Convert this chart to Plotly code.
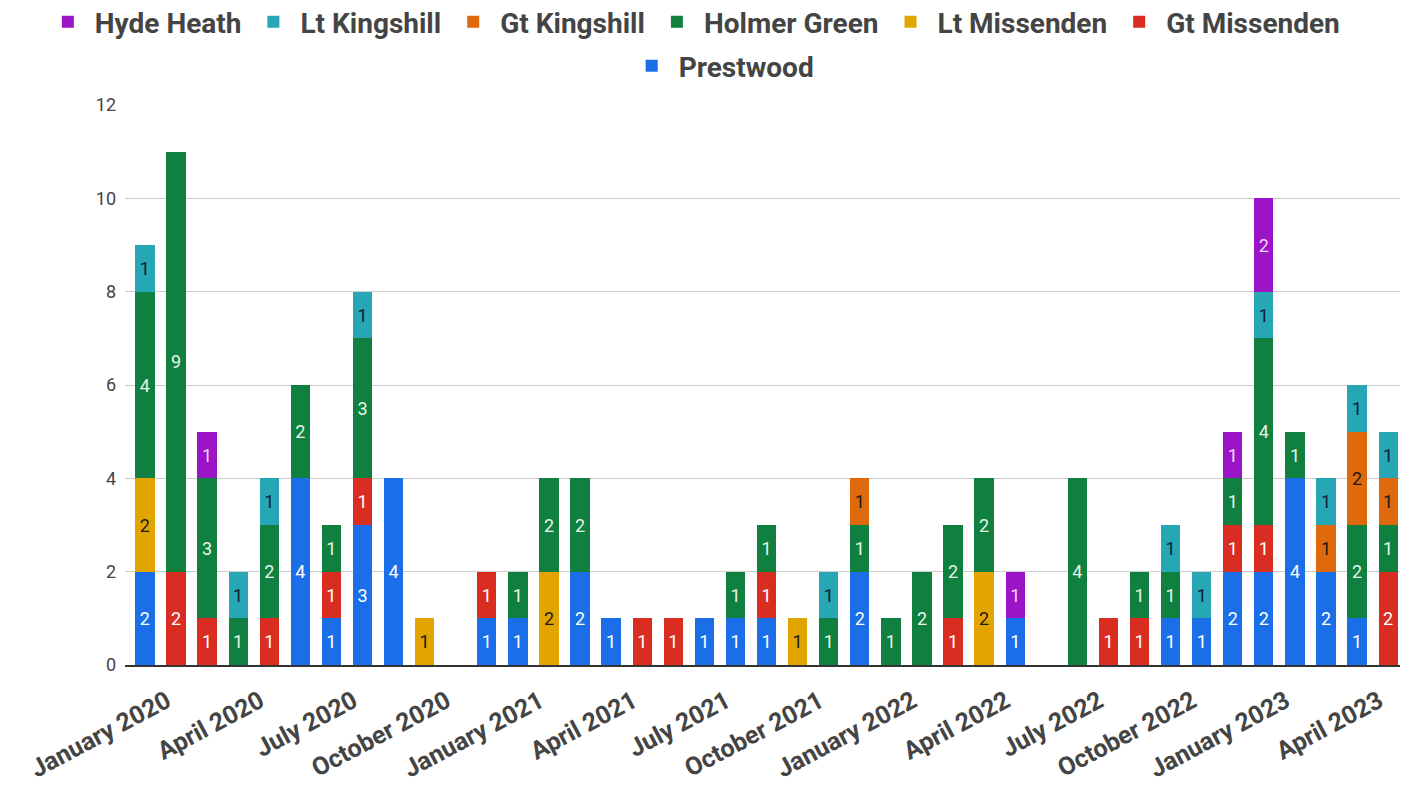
import plotly.graph_objects as go

months = []
names = ["January", "February", "March", "April", "May", "June", "July",
         "August", "September", "October", "November", "December"]
for y in [2020, 2021, 2022, 2023]:
    for m in names:
        months.append(f"{m} {y}")
months = months[:41]  # January 2020 .. May 2023

tick_labels = [m for m in months if m.split()[0] in ("January", "April", "July", "October")]

prestwood    = [2,0,0,0,0,4,1,3,4,0,0,1, 1,0,2,1,0,0,1,1,1,0,0,2, 0,0,0,0,1,0,0,0,0,1,1,2, 2,4,2,1,0]
gt_missenden = [0,2,1,0,1,0,1,1,0,0,0,1, 0,0,0,0,1,1,0,0,1,0,0,0, 0,0,1,0,0,0,0,1,1,0,0,1, 1,0,0,0,2]
lt_missenden = [2,0,0,0,0,0,0,0,0,1,0,0, 0,2,0,0,0,0,0,0,0,1,0,0, 0,0,0,2,0,0,0,0,0,0,0,0, 0,0,0,0,0]
holmer_green = [4,9,3,1,2,2,1,3,0,0,0,0, 1,2,2,0,0,0,0,1,1,0,1,1, 1,2,2,2,0,0,4,0,1,1,0,1, 4,1,0,2,1]
gt_kingshill = [0,0,0,0,0,0,0,0,0,0,0,0, 0,0,0,0,0,0,0,0,0,0,0,1, 0,0,0,0,0,0,0,0,0,0,0,0, 0,0,1,2,1]
lt_kingshill = [1,0,0,1,1,0,0,1,0,0,0,0, 0,0,0,0,0,0,0,0,0,0,1,0, 0,0,0,0,0,0,0,0,0,1,1,0, 1,0,1,1,1]
hyde_heath   = [0,0,1,0,0,0,0,0,0,0,0,0, 0,0,0,0,0,0,0,0,0,0,0,0, 0,0,0,0,1,0,0,0,0,0,0,1, 2,0,0,0,0]

series = [
    ("Prestwood", prestwood, "#1a6fe8", "white", "legend2"),
    ("Gt Missenden", gt_missenden, "#d92d22", "white", "legend"),
    ("Lt Missenden", lt_missenden, "#e2a500", "#1a1a1a", "legend"),
    ("Holmer Green", holmer_green, "#0f8040", "#e6f5e6", "legend"),
    ("Gt Kingshill", gt_kingshill, "#df6a0d", "#1a1a1a", "legend"),
    ("Lt Kingshill", lt_kingshill, "#27a6b6", "#0d2233", "legend"),
    ("Hyde Heath", hyde_heath, "#9b14c6", "#f4d8f8", "legend"),
]

fig = go.Figure()
for name, vals, color, tcolor, leg in series:
    yv = [v if v else None for v in vals]
    fig.add_trace(go.Bar(
        name=name, x=months, y=yv, legend=leg,
        marker=dict(color=color, line=dict(width=0)),
        text=[str(v) if v else "" for v in vals],
        textposition="inside", insidetextanchor="middle", textangle=0,
        textfont=dict(family="Roboto", size=18, color=tcolor),
        constraintext="none",
    ))

legend_font = dict(family="Roboto", size=28, color="#444444", weight="bold")
fig.update_layout(
    barmode="stack",
    bargap=0.38,
    width=1401, height=779,
    margin=dict(l=117, r=9, t=97, b=122, autoexpand=False),
    paper_bgcolor="white", plot_bgcolor="white",
    font=dict(family="Roboto", color="#444444"),
    legend=dict(
        orientation="h", traceorder="reversed",
        x=-0.066, xanchor="left", y=1.148, yanchor="middle",
        font=legend_font, itemsizing="constant", itemwidth=44,
    ),
    legend2=dict(
        orientation="h",
        x=0.468, xanchor="center", y=1.0696, yanchor="middle",
        font=legend_font, itemsizing="constant", itemwidth=44,
    ),
    uniformtext=dict(minsize=8, mode="show"),
)
fig.update_xaxes(
    type="category", categoryorder="array", categoryarray=months,
    tickmode="array", tickvals=tick_labels, ticktext=tick_labels,
    tickangle=-28, tickfont=dict(family="Roboto", size=25, color="#444444", weight="bold"),
    range=[-0.64, 40.38], showgrid=False, showline=True, linecolor="#333333", linewidth=2,
    ticks="", fixedrange=True, automargin=False, ticklabelstandoff=10, ticklabelshift=22,
)
fig.update_yaxes(
    range=[0, 12], dtick=2, tick0=0, showgrid=True, gridcolor="#cccccc", gridwidth=1,
    zeroline=False, tickfont=dict(family="Roboto", size=18, color="#444444"),
    ticks="", ticklabelstandoff=8, automargin=False,
)
fig.write_html("out.html")
